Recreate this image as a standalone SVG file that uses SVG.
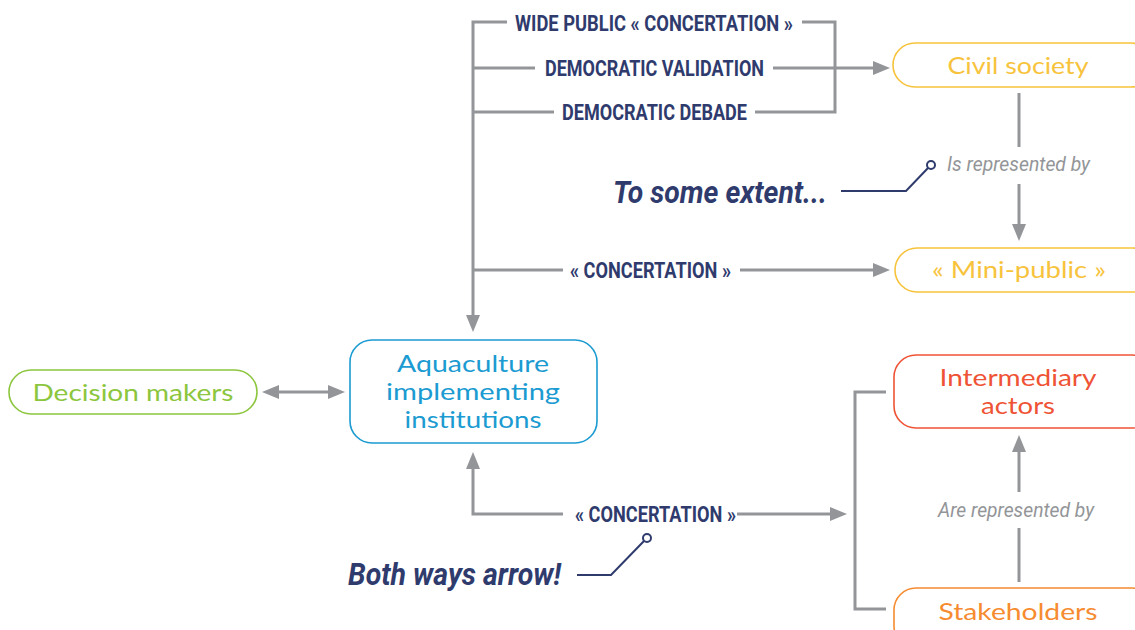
<svg xmlns="http://www.w3.org/2000/svg" width="1135" height="630" viewBox="0 0 1135 630">
<style>
.bg{fill:#ffffff}
.conn{fill:none;stroke:#939598;stroke-width:3}
.call{fill:none;stroke:#2f3b6d;stroke-width:2}
.dot{fill:#ffffff;stroke:#2f3b6d;stroke-width:2}
.box{fill:#ffffff;stroke-width:1.6}
.lbl{font-family:Roboto,"Liberation Sans",sans-serif;font-weight:700;font-size:22px;fill:#2f3b6d}
.ital{font-family:Roboto,"Liberation Sans",sans-serif;font-style:italic;font-size:21px;fill:#939598}
.big{font-family:Roboto,"Liberation Sans",sans-serif;font-weight:700;font-style:italic;font-size:32px;fill:#2f3b6d}
.nt{font-family:Lato,"Open Sans","Liberation Sans",sans-serif;font-size:23px;text-anchor:middle}
</style>
<defs>
<marker id="ah" markerUnits="userSpaceOnUse" markerWidth="17" markerHeight="14" refX="12" refY="7" orient="auto-start-reverse">
<path d="M0,0 L17,7 L0,14 z" fill="#939598"/>
</marker>
</defs>
<rect class="bg" x="0" y="0" width="1135" height="630"/>
<g id="connectors">
<path class="conn" d="M507,22 H473 V327" marker-end="url(#ah)"/>
<path class="conn" d="M535,68 H473"/>
<path class="conn" d="M554,112 H473"/>
<path class="conn" d="M563,270 H473"/>
<path class="conn" d="M802,22 H835 V112 H755"/>
<path class="conn" d="M773,68 H885" marker-end="url(#ah)"/>
<path class="conn" d="M740,270 H885" marker-end="url(#ah)"/>
<path class="conn" d="M1019,93 V147"/>
<path class="conn" d="M1019,184 V236" marker-end="url(#ah)"/>
<path class="conn" d="M267,392 H340" marker-start="url(#ah)" marker-end="url(#ah)"/>
<path class="conn" d="M563,514 H473 V457" marker-end="url(#ah)"/>
<path class="conn" d="M737,514 H842" marker-end="url(#ah)"/>
<path class="conn" d="M886,392 H855 V609 H886"/>
<path class="conn" d="M1019,582 V528"/>
<path class="conn" d="M1019,492 V440" marker-end="url(#ah)"/>
<text class="lbl" x="515" y="31" textLength="278" lengthAdjust="spacingAndGlyphs">WIDE PUBLIC « CONCERTATION »</text>
<text class="lbl" x="545" y="76" textLength="219" lengthAdjust="spacingAndGlyphs">DEMOCRATIC VALIDATION</text>
<text class="lbl" x="562" y="120" textLength="185" lengthAdjust="spacingAndGlyphs">DEMOCRATIC DEBADE</text>
<text class="lbl" x="570" y="278" textLength="161" lengthAdjust="spacingAndGlyphs">« CONCERTATION »</text>
<text class="lbl" x="575" y="522" textLength="161" lengthAdjust="spacingAndGlyphs">« CONCERTATION »</text>
<text class="ital" x="947" y="171" textLength="143" lengthAdjust="spacingAndGlyphs">Is represented by</text>
<text class="ital" x="938" y="517" textLength="156" lengthAdjust="spacingAndGlyphs">Are represented by</text>
</g>
<g id="callout-extent">
<path class="call" d="M841,191 H906 L928,168"/>
<circle class="dot" cx="931" cy="165" r="4"/>
<text class="big" x="613" y="203" textLength="214" lengthAdjust="spacingAndGlyphs">To some extent...</text>
</g>
<g id="callout-both">
<path class="call" d="M577,575 H611 L644,541"/>
<circle class="dot" cx="647" cy="538" r="4"/>
<text class="big" x="348" y="585" textLength="213" lengthAdjust="spacingAndGlyphs">Both ways arrow!</text>
</g>
<g id="civil-society">
<rect class="box" x="893" y="43" width="260" height="44" rx="22" stroke="#f7c33c"/>
<text class="nt" x="1018" y="74" fill="#f7c33c" textLength="141" lengthAdjust="spacingAndGlyphs">Civil society</text>
</g>
<g id="mini-public">
<rect class="box" x="895" y="248" width="260" height="44" rx="22" stroke="#f7c33c"/>
<text class="nt" x="1019" y="278" fill="#f7c33c" textLength="174" lengthAdjust="spacingAndGlyphs">« Mini-public »</text>
</g>
<g id="aquaculture">
<rect class="box" x="350" y="340" width="247" height="103" rx="22" stroke="#1b9bd1"/>
<text class="nt" x="473" y="372" fill="#1b9bd1" textLength="152" lengthAdjust="spacingAndGlyphs">Aquaculture</text>
<text class="nt" x="473" y="400" fill="#1b9bd1" textLength="174" lengthAdjust="spacingAndGlyphs">implementing</text>
<text class="nt" x="473" y="428" fill="#1b9bd1" textLength="137" lengthAdjust="spacingAndGlyphs">institutions</text>
</g>
<g id="decision-makers">
<rect class="box" x="9" y="370" width="248" height="44" rx="22" stroke="#8cc63e"/>
<text class="nt" x="133" y="401" fill="#8cc63e" textLength="201" lengthAdjust="spacingAndGlyphs">Decision makers</text>
</g>
<g id="intermediary">
<rect class="box" x="894" y="355" width="260" height="73" rx="22" stroke="#ef5335"/>
<text class="nt" x="1018" y="386" fill="#ef5335" textLength="157" lengthAdjust="spacingAndGlyphs">Intermediary</text>
<text class="nt" x="1018" y="414" fill="#ef5335" textLength="74" lengthAdjust="spacingAndGlyphs">actors</text>
</g>
<g id="stakeholders">
<rect class="box" x="894" y="588" width="260" height="60" rx="22" stroke="#f68b30"/>
<text class="nt" x="1018" y="620" fill="#f68b30" textLength="159" lengthAdjust="spacingAndGlyphs">Stakeholders</text>
</g>
</svg>
